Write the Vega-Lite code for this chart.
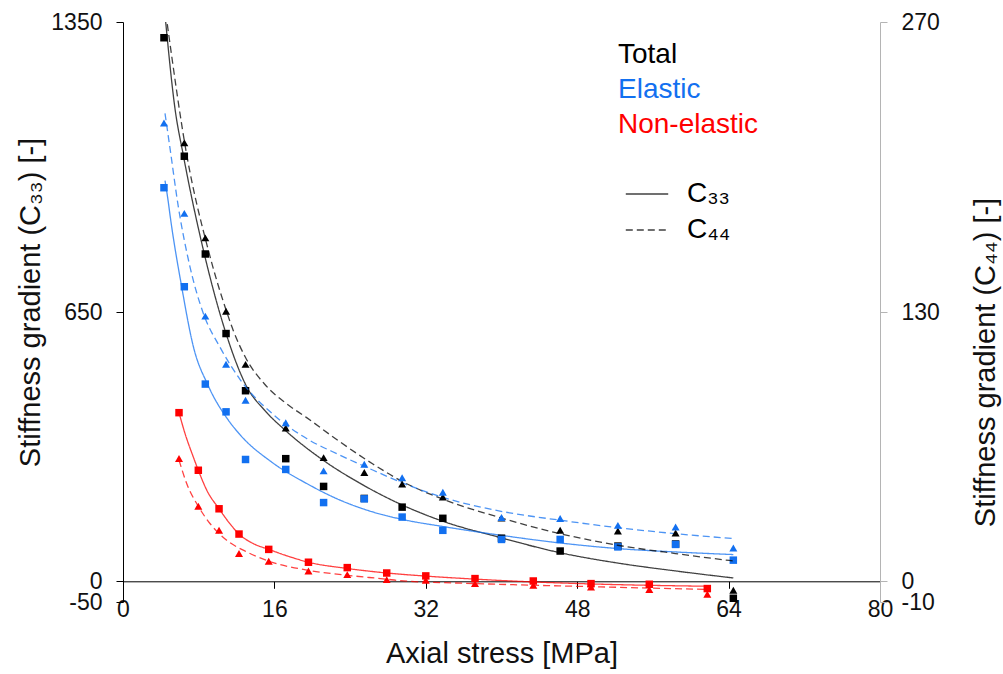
{
  "$schema": "https://vega.github.io/schema/vega-lite/v6.json",
  "width": 757,
  "height": 580,
  "autosize": "none",
  "padding": {"left": 123, "top": 22, "right": 123, "bottom": 72},
  "background": "white",
  "config": {
    "view": {"stroke": null},
    "font": "Liberation Sans",
    "axis": {"grid": false, "labelFont": "Liberation Sans", "titleFont": "Liberation Sans", "labelFontSize": 23, "labelColor": "#111111", "titleColor": "#111111", "titleFontWeight": "normal", "labelOverlap": false, "labelFlush": false, "titleFontSize": 29, "labelExpr": "'' + datum.value"},
    "legend": {"labelFont": "Liberation Sans"}
  },
  "datasets": {
    "points": [
      {"x": 4.33, "v": 1312, "g": "Total", "c": "C33"},
      {"x": 6.48, "v": 1026, "g": "Total", "c": "C33"},
      {"x": 8.70, "v": 790, "g": "Total", "c": "C33"},
      {"x": 10.89, "v": 598, "g": "Total", "c": "C33"},
      {"x": 12.95, "v": 460, "g": "Total", "c": "C33"},
      {"x": 17.2, "v": 296, "g": "Total", "c": "C33"},
      {"x": 21.2, "v": 229, "g": "Total", "c": "C33"},
      {"x": 25.5, "v": 200, "g": "Total", "c": "C33"},
      {"x": 29.5, "v": 179, "g": "Total", "c": "C33"},
      {"x": 33.8, "v": 152, "g": "Total", "c": "C33"},
      {"x": 40.0, "v": 104, "g": "Total", "c": "C33"},
      {"x": 46.2, "v": 73, "g": "Total", "c": "C33"},
      {"x": 52.3, "v": 85, "g": "Total", "c": "C33"},
      {"x": 58.4, "v": 90, "g": "Total", "c": "C33"},
      {"x": 64.5, "v": -41, "g": "Total", "c": "C33"},
      {"x": 4.33, "v": 950, "g": "Elastic", "c": "C33"},
      {"x": 6.48, "v": 711, "g": "Elastic", "c": "C33"},
      {"x": 8.70, "v": 476, "g": "Elastic", "c": "C33"},
      {"x": 10.89, "v": 409, "g": "Elastic", "c": "C33"},
      {"x": 12.95, "v": 294, "g": "Elastic", "c": "C33"},
      {"x": 17.2, "v": 270, "g": "Elastic", "c": "C33"},
      {"x": 21.2, "v": 190, "g": "Elastic", "c": "C33"},
      {"x": 25.5, "v": 199, "g": "Elastic", "c": "C33"},
      {"x": 29.5, "v": 155, "g": "Elastic", "c": "C33"},
      {"x": 33.8, "v": 123, "g": "Elastic", "c": "C33"},
      {"x": 40.0, "v": 101, "g": "Elastic", "c": "C33"},
      {"x": 46.2, "v": 101, "g": "Elastic", "c": "C33"},
      {"x": 52.3, "v": 83, "g": "Elastic", "c": "C33"},
      {"x": 58.4, "v": 89, "g": "Elastic", "c": "C33"},
      {"x": 64.5, "v": 51, "g": "Elastic", "c": "C33"},
      {"x": 5.92, "v": 407, "g": "Non-elastic", "c": "C33"},
      {"x": 7.96, "v": 268, "g": "Non-elastic", "c": "C33"},
      {"x": 10.15, "v": 175, "g": "Non-elastic", "c": "C33"},
      {"x": 12.26, "v": 114, "g": "Non-elastic", "c": "C33"},
      {"x": 15.4, "v": 77, "g": "Non-elastic", "c": "C33"},
      {"x": 19.6, "v": 46, "g": "Non-elastic", "c": "C33"},
      {"x": 23.7, "v": 33, "g": "Non-elastic", "c": "C33"},
      {"x": 27.87, "v": 20, "g": "Non-elastic", "c": "C33"},
      {"x": 32.0, "v": 13, "g": "Non-elastic", "c": "C33"},
      {"x": 37.2, "v": 6.5, "g": "Non-elastic", "c": "C33"},
      {"x": 43.36, "v": 0.7, "g": "Non-elastic", "c": "C33"},
      {"x": 49.46, "v": -5.6, "g": "Non-elastic", "c": "C33"},
      {"x": 55.62, "v": -7.2, "g": "Non-elastic", "c": "C33"},
      {"x": 61.75, "v": -17.6, "g": "Non-elastic", "c": "C33"},
      {"x": 6.48, "v": 211.7, "g": "Total", "c": "C44"},
      {"x": 8.70, "v": 165.8, "g": "Total", "c": "C44"},
      {"x": 10.89, "v": 130.4, "g": "Total", "c": "C44"},
      {"x": 12.95, "v": 104.7, "g": "Total", "c": "C44"},
      {"x": 17.2, "v": 74, "g": "Total", "c": "C44"},
      {"x": 21.2, "v": 59.7, "g": "Total", "c": "C44"},
      {"x": 25.5, "v": 52.5, "g": "Total", "c": "C44"},
      {"x": 29.5, "v": 46.9, "g": "Total", "c": "C44"},
      {"x": 33.8, "v": 40.7, "g": "Total", "c": "C44"},
      {"x": 40.0, "v": 30.5, "g": "Total", "c": "C44"},
      {"x": 46.2, "v": 24.6, "g": "Total", "c": "C44"},
      {"x": 52.3, "v": 24.3, "g": "Total", "c": "C44"},
      {"x": 58.4, "v": 23.3, "g": "Total", "c": "C44"},
      {"x": 64.5, "v": -4.3, "g": "Total", "c": "C44"},
      {"x": 4.33, "v": 221.2, "g": "Elastic", "c": "C44"},
      {"x": 6.48, "v": 177.6, "g": "Elastic", "c": "C44"},
      {"x": 8.70, "v": 128, "g": "Elastic", "c": "C44"},
      {"x": 10.89, "v": 104.8, "g": "Elastic", "c": "C44"},
      {"x": 12.95, "v": 87.4, "g": "Elastic", "c": "C44"},
      {"x": 17.2, "v": 76.5, "g": "Elastic", "c": "C44"},
      {"x": 21.2, "v": 53.3, "g": "Elastic", "c": "C44"},
      {"x": 25.5, "v": 56.5, "g": "Elastic", "c": "C44"},
      {"x": 29.5, "v": 50, "g": "Elastic", "c": "C44"},
      {"x": 33.8, "v": 43, "g": "Elastic", "c": "C44"},
      {"x": 40.0, "v": 30.8, "g": "Elastic", "c": "C44"},
      {"x": 46.2, "v": 30.3, "g": "Elastic", "c": "C44"},
      {"x": 52.3, "v": 27, "g": "Elastic", "c": "C44"},
      {"x": 58.4, "v": 26.2, "g": "Elastic", "c": "C44"},
      {"x": 64.5, "v": 16.1, "g": "Elastic", "c": "C44"},
      {"x": 5.92, "v": 59.3, "g": "Non-elastic", "c": "C44"},
      {"x": 7.96, "v": 36.2, "g": "Non-elastic", "c": "C44"},
      {"x": 10.15, "v": 24.6, "g": "Non-elastic", "c": "C44"},
      {"x": 12.26, "v": 13.4, "g": "Non-elastic", "c": "C44"},
      {"x": 15.4, "v": 9.7, "g": "Non-elastic", "c": "C44"},
      {"x": 19.6, "v": 5.0, "g": "Non-elastic", "c": "C44"},
      {"x": 23.7, "v": 3.2, "g": "Non-elastic", "c": "C44"},
      {"x": 27.87, "v": 0.8, "g": "Non-elastic", "c": "C44"},
      {"x": 32.0, "v": 0.5, "g": "Non-elastic", "c": "C44"},
      {"x": 37.2, "v": -1.1, "g": "Non-elastic", "c": "C44"},
      {"x": 43.36, "v": -1.9, "g": "Non-elastic", "c": "C44"},
      {"x": 49.46, "v": -2.8, "g": "Non-elastic", "c": "C44"},
      {"x": 55.62, "v": -4.0, "g": "Non-elastic", "c": "C44"},
      {"x": 61.75, "v": -6.3, "g": "Non-elastic", "c": "C44"}
    ],
    "curves": [
      {"x": 4.51, "v": 1350, "g": "Total", "c": "C33"},
      {"x": 5.5, "v": 1140, "g": "Total", "c": "C33"},
      {"x": 6.37, "v": 1029, "g": "Total", "c": "C33"},
      {"x": 8.49, "v": 800, "g": "Total", "c": "C33"},
      {"x": 10.89, "v": 598, "g": "Total", "c": "C33"},
      {"x": 13.07, "v": 470, "g": "Total", "c": "C33"},
      {"x": 15.0, "v": 412, "g": "Total", "c": "C33"},
      {"x": 17.12, "v": 365, "g": "Total", "c": "C33"},
      {"x": 21.17, "v": 292, "g": "Total", "c": "C33"},
      {"x": 25.4, "v": 232, "g": "Total", "c": "C33"},
      {"x": 29.62, "v": 183, "g": "Total", "c": "C33"},
      {"x": 33.79, "v": 145, "g": "Total", "c": "C33"},
      {"x": 39.95, "v": 105, "g": "Total", "c": "C33"},
      {"x": 46.18, "v": 69, "g": "Total", "c": "C33"},
      {"x": 52.28, "v": 44, "g": "Total", "c": "C33"},
      {"x": 58.37, "v": 25, "g": "Total", "c": "C33"},
      {"x": 64.5, "v": 8, "g": "Total", "c": "C33"},
      {"x": 4.44, "v": 967, "g": "Elastic", "c": "C33"},
      {"x": 4.79, "v": 915, "g": "Elastic", "c": "C33"},
      {"x": 4.97, "v": 884, "g": "Elastic", "c": "C33"},
      {"x": 6.2, "v": 711, "g": "Elastic", "c": "C33"},
      {"x": 7.43, "v": 567, "g": "Elastic", "c": "C33"},
      {"x": 9.01, "v": 472, "g": "Elastic", "c": "C33"},
      {"x": 11.13, "v": 389, "g": "Elastic", "c": "C33"},
      {"x": 12.36, "v": 354, "g": "Elastic", "c": "C33"},
      {"x": 15.88, "v": 285, "g": "Elastic", "c": "C33"},
      {"x": 19.41, "v": 236, "g": "Elastic", "c": "C33"},
      {"x": 22.93, "v": 196, "g": "Elastic", "c": "C33"},
      {"x": 26.45, "v": 167, "g": "Elastic", "c": "C33"},
      {"x": 29.8, "v": 148, "g": "Elastic", "c": "C33"},
      {"x": 33.6, "v": 133, "g": "Elastic", "c": "C33"},
      {"x": 39.95, "v": 111, "g": "Elastic", "c": "C33"},
      {"x": 46.18, "v": 92.5, "g": "Elastic", "c": "C33"},
      {"x": 52.28, "v": 79, "g": "Elastic", "c": "C33"},
      {"x": 58.37, "v": 70.8, "g": "Elastic", "c": "C33"},
      {"x": 64.5, "v": 64.5, "g": "Elastic", "c": "C33"},
      {"x": 5.92, "v": 407, "g": "Non-elastic", "c": "C33"},
      {"x": 6.55, "v": 357, "g": "Non-elastic", "c": "C33"},
      {"x": 7.43, "v": 300, "g": "Non-elastic", "c": "C33"},
      {"x": 7.96, "v": 268, "g": "Non-elastic", "c": "C33"},
      {"x": 8.85, "v": 220, "g": "Non-elastic", "c": "C33"},
      {"x": 10.15, "v": 175, "g": "Non-elastic", "c": "C33"},
      {"x": 11.3, "v": 139, "g": "Non-elastic", "c": "C33"},
      {"x": 12.26, "v": 114, "g": "Non-elastic", "c": "C33"},
      {"x": 13.77, "v": 91, "g": "Non-elastic", "c": "C33"},
      {"x": 15.4, "v": 77, "g": "Non-elastic", "c": "C33"},
      {"x": 17.65, "v": 59, "g": "Non-elastic", "c": "C33"},
      {"x": 19.6, "v": 46, "g": "Non-elastic", "c": "C33"},
      {"x": 23.7, "v": 31, "g": "Non-elastic", "c": "C33"},
      {"x": 27.87, "v": 20, "g": "Non-elastic", "c": "C33"},
      {"x": 31.4, "v": 13.5, "g": "Non-elastic", "c": "C33"},
      {"x": 36.3, "v": 6.4, "g": "Non-elastic", "c": "C33"},
      {"x": 43.36, "v": -1.6, "g": "Non-elastic", "c": "C33"},
      {"x": 50.4, "v": -7, "g": "Non-elastic", "c": "C33"},
      {"x": 61.75, "v": -12, "g": "Non-elastic", "c": "C33"},
      {"x": 4.68, "v": 269, "g": "Total", "c": "C44"},
      {"x": 6.73, "v": 206, "g": "Total", "c": "C44"},
      {"x": 9.01, "v": 160, "g": "Total", "c": "C44"},
      {"x": 10.89, "v": 131, "g": "Total", "c": "C44"},
      {"x": 11.66, "v": 121, "g": "Total", "c": "C44"},
      {"x": 12.95, "v": 108, "g": "Total", "c": "C44"},
      {"x": 15.0, "v": 95, "g": "Total", "c": "C44"},
      {"x": 17.2, "v": 86, "g": "Total", "c": "C44"},
      {"x": 19.41, "v": 79, "g": "Total", "c": "C44"},
      {"x": 22.93, "v": 67.3, "g": "Total", "c": "C44"},
      {"x": 26.45, "v": 56.5, "g": "Total", "c": "C44"},
      {"x": 29.8, "v": 47.5, "g": "Total", "c": "C44"},
      {"x": 33.6, "v": 40, "g": "Total", "c": "C44"},
      {"x": 39.95, "v": 30.6, "g": "Total", "c": "C44"},
      {"x": 46.18, "v": 23, "g": "Total", "c": "C44"},
      {"x": 52.28, "v": 17.4, "g": "Total", "c": "C44"},
      {"x": 58.37, "v": 13.4, "g": "Total", "c": "C44"},
      {"x": 64.5, "v": 9.8, "g": "Total", "c": "C44"},
      {"x": 4.44, "v": 225.9, "g": "Elastic", "c": "C44"},
      {"x": 4.97, "v": 209, "g": "Elastic", "c": "C44"},
      {"x": 5.84, "v": 181, "g": "Elastic", "c": "C44"},
      {"x": 7.08, "v": 151.8, "g": "Elastic", "c": "C44"},
      {"x": 8.49, "v": 129.3, "g": "Elastic", "c": "C44"},
      {"x": 10.25, "v": 113, "g": "Elastic", "c": "C44"},
      {"x": 12.36, "v": 97.5, "g": "Elastic", "c": "C44"},
      {"x": 15.88, "v": 80.5, "g": "Elastic", "c": "C44"},
      {"x": 19.41, "v": 68.9, "g": "Elastic", "c": "C44"},
      {"x": 22.93, "v": 60.9, "g": "Elastic", "c": "C44"},
      {"x": 26.45, "v": 53.6, "g": "Elastic", "c": "C44"},
      {"x": 29.8, "v": 47, "g": "Elastic", "c": "C44"},
      {"x": 33.6, "v": 40.8, "g": "Elastic", "c": "C44"},
      {"x": 39.95, "v": 33.8, "g": "Elastic", "c": "C44"},
      {"x": 46.18, "v": 29.5, "g": "Elastic", "c": "C44"},
      {"x": 52.28, "v": 25.9, "g": "Elastic", "c": "C44"},
      {"x": 58.37, "v": 23, "g": "Elastic", "c": "C44"},
      {"x": 64.5, "v": 20.6, "g": "Elastic", "c": "C44"},
      {"x": 5.92, "v": 58.5, "g": "Non-elastic", "c": "C44"},
      {"x": 6.73, "v": 47.2, "g": "Non-elastic", "c": "C44"},
      {"x": 7.96, "v": 36.2, "g": "Non-elastic", "c": "C44"},
      {"x": 9.19, "v": 27.9, "g": "Non-elastic", "c": "C44"},
      {"x": 10.96, "v": 19.8, "g": "Non-elastic", "c": "C44"},
      {"x": 13.07, "v": 14.2, "g": "Non-elastic", "c": "C44"},
      {"x": 15.4, "v": 9.7, "g": "Non-elastic", "c": "C44"},
      {"x": 19.58, "v": 5.3, "g": "Non-elastic", "c": "C44"},
      {"x": 23.7, "v": 2.9, "g": "Non-elastic", "c": "C44"},
      {"x": 27.87, "v": 1.0, "g": "Non-elastic", "c": "C44"},
      {"x": 29.27, "v": 0.3, "g": "Non-elastic", "c": "C44"},
      {"x": 37.2, "v": -1.1, "g": "Non-elastic", "c": "C44"},
      {"x": 43.36, "v": -1.9, "g": "Non-elastic", "c": "C44"},
      {"x": 50.4, "v": -2.7, "g": "Non-elastic", "c": "C44"},
      {"x": 61.75, "v": -3.9, "g": "Non-elastic", "c": "C44"}
    ]
  },
  "layer": [
    {
      "encoding": {
        "x": {"field": "x", "type": "quantitative", "scale": {"domain": [0, 80], "nice": false, "zero": false},
          "axis": {"values": [0, 16, 32, 48, 64, 80], "offset": -20.7, "domainColor": "#000000", "tickColor": "#000000", "tickSize": 7, "labelPadding": 10, "title": "Axial stress [MPa]", "titlePadding": 18}},
        "y": {"field": "v", "type": "quantitative", "scale": {"domain": [-50, 1350], "nice": false, "zero": false},
          "axis": {"orient": "left", "values": [-50, 0, 650, 1350], "domainColor": "#000000", "tickColor": "#000000", "tickSize": 7, "labelPadding": 14, "title": "Stiffness gradient  (C₃₃) [-]", "titleAngle": -90, "titleX": -84, "titleY": 280, "titleBaseline": "alphabetic"}},
        "color": {"field": "g", "type": "nominal", "scale": {"domain": ["Total", "Elastic", "Non-elastic"], "range": ["#000000", "#1270F0", "#FF0000"]},
          "legend": {"orient": "none", "legendX": 467, "legendY": 19, "title": null, "symbolOpacity": 0, "symbolSize": 0, "symbolStrokeWidth": 0, "labelFontSize": 28, "labelOffset": 0, "rowPadding": 7, "padding": 0,
            "encode": {"labels": {"update": {"fill": {"scale": "color", "field": "value"}}}}}}
      },
      "layer": [
        {"data": {"name": "curves"}, "transform": [{"filter": "datum.c == 'C33'"}],
          "mark": {"type": "line", "interpolate": "monotone", "strokeWidth": 1.3, "opacity": 0.75, "clip": true},
          "encoding": {"strokeDash": {"field": "c", "type": "nominal", "scale": {"domain": ["C33", "C44"], "range": [[1, 0], [7, 4]]},
            "legend": {"orient": "none", "legendX": 502, "legendY": 150, "title": null, "symbolType": "stroke", "symbolStrokeColor": "#000000", "symbolStrokeWidth": 1.3, "symbolSize": 1800, "labelFontSize": 28, "labelOffset": 18, "rowPadding": -5, "padding": 0, "labelExpr": "datum.label == 'C33' ? 'C₃₃' : 'C₄₄'"}}}},
        {"data": {"name": "points"}, "transform": [{"filter": "datum.c == 'C33'"}],
          "mark": {"type": "point", "shape": "square", "filled": true, "size": 56, "opacity": 1}}
      ]
    },
    {
      "encoding": {
        "x": {"field": "x", "type": "quantitative", "scale": {"domain": [0, 80], "nice": false, "zero": false},
          "axis": {"values": [0, 16, 32, 48, 64, 80], "offset": -20.7, "domainColor": "#000000", "tickColor": "#000000", "tickSize": 7, "labelPadding": 10, "title": "Axial stress [MPa]", "titlePadding": 18}},
        "y": {"field": "v", "type": "quantitative", "scale": {"domain": [-10, 270], "nice": false, "zero": false},
          "axis": {"orient": "right", "values": [-10, 0, 130, 270], "domainColor": "#B4B4B4", "tickColor": "#B4B4B4", "tickSize": 7, "labelPadding": 14, "title": "Stiffness gradient  (C₄₄) [-]", "titleAngle": -90, "titleX": 114, "titleY": 340, "titleBaseline": "alphabetic"}},
        "color": {"field": "g", "type": "nominal"}
      },
      "layer": [
        {"data": {"name": "curves"}, "transform": [{"filter": "datum.c == 'C44'"}],
          "mark": {"type": "line", "interpolate": "monotone", "strokeWidth": 1.3, "opacity": 0.75, "clip": true},
          "encoding": {"strokeDash": {"field": "c", "type": "nominal"}}},
        {"data": {"name": "points"}, "transform": [{"filter": "datum.c == 'C44'"}],
          "mark": {"type": "point", "shape": "triangle-up", "filled": true, "size": 64, "opacity": 1}}
      ]
    }
  ],
  "resolve": {"scale": {"y": "independent"}}
}
